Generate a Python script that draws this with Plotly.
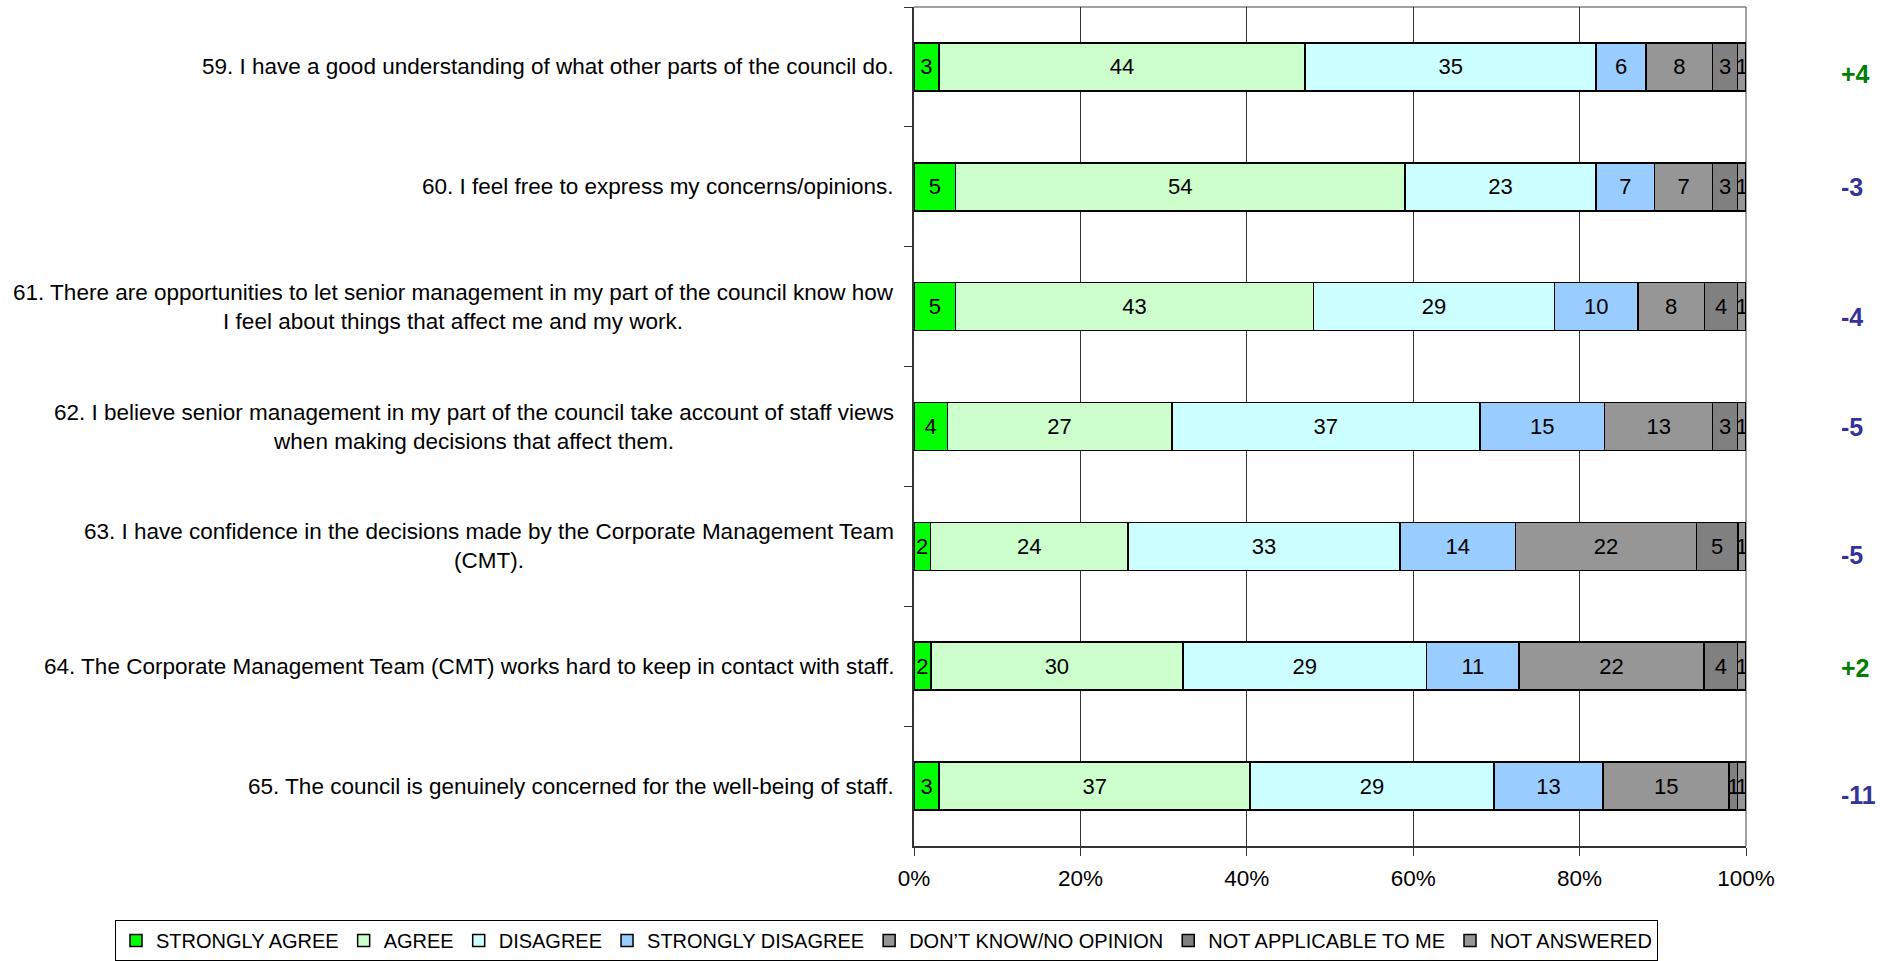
import plotly.graph_objects as go

# ---------------- data ----------------
questions = [
    "59. I have a good understanding of what other parts of the council do.",
    "60. I feel free to express my concerns/opinions.",
    "61. There are opportunities to let senior management in my part of the council know how<br>I feel about things that affect me and my work.",
    "62. I believe senior management in my part of the council take account of staff views<br>when making decisions that affect them.",
    "63. I have confidence in the decisions made by the Corporate Management Team<br>(CMT).",
    "64. The Corporate Management Team (CMT) works hard to keep in contact with staff.",
    "65. The council is genuinely concerned for the well-being of staff.",
]
row_ids = ["Q59", "Q60", "Q61", "Q62", "Q63", "Q64", "Q65"]

series_names = ["STRONGLY AGREE", "AGREE", "DISAGREE", "STRONGLY DISAGREE",
                "DON\u2019T KNOW/NO OPINION", "NOT APPLICABLE TO ME", "NOT ANSWERED"]

strongly_agree    = [3, 5, 5, 4, 2, 2, 3]
agree             = [44, 54, 43, 27, 24, 30, 37]
disagree          = [35, 23, 29, 37, 33, 29, 29]
strongly_disagree = [6, 7, 10, 15, 14, 11, 13]
dont_know         = [8, 7, 8, 13, 22, 22, 15]
not_applicable    = [3, 3, 4, 3, 5, 4, 1]
not_answered      = [1, 1, 1, 1, 1, 1, 1]

changes = ["+4", "-3", "-4", "-5", "-5", "+2", "-11"]

x_tickvals = [0, 20, 40, 60, 80, 100]
x_ticktext = ["0%", "20%", "40%", "60%", "80%", "100%"]

# ---------------- styles ----------------
series_values = [strongly_agree, agree, disagree, strongly_disagree,
                 dont_know, not_applicable, not_answered]
series_colors = ["#00FF00", "#CCFFCC", "#CCFFFF", "#99CCFF",
                 "#969696", "#808080", "#969696"]
change_dy = [7, 0, 10, 0, 9, 2, 9]  # small vertical offsets (px) of change labels

FONT = "Liberation Sans, Arial, sans-serif"
W, H = 1885, 961
ML, MR, MT, MB = 914, 139, 7, 115
plot_w = W - ML - MR
plot_h = H - MT - MB

fig = go.Figure()
for name, vals, col in zip(series_names, series_values, series_colors):
    fig.add_trace(go.Bar(
        y=row_ids, x=vals, name=name, orientation="h",
        marker=dict(color=col, line=dict(color="#000000", width=1.5)),
        text=[str(v) for v in vals], texttemplate="%{text}",
        textposition="inside", insidetextanchor="middle", textangle=0,
        textfont=dict(family=FONT, size=22, color="#000000"),
        hoverinfo="skip",
    ))

annotations = []
for rid, q in zip(row_ids, questions):
    annotations.append(dict(
        xref="paper", yref="y", x=0, y=rid, xshift=-18,
        xanchor="right", yanchor="middle", align="center",
        text=q, showarrow=False,
        font=dict(family=FONT, size=22.5, color="#000000"),
    ))
for rid, c, dy in zip(row_ids, changes, change_dy):
    col = "#008000" if c.startswith("+") else "#333399"
    annotations.append(dict(
        xref="paper", yref="y", x=1, y=rid, xshift=93, yshift=-dy,
        xanchor="left", yanchor="middle",
        text="<b>%s</b>" % c, showarrow=False,
        font=dict(family=FONT, size=25, color=col),
    ))

fig.update_layout(
    width=W, height=H,
    barmode="stack", barnorm="percent", bargap=0.6,
    plot_bgcolor="#FFFFFF", paper_bgcolor="#FFFFFF",
    margin=dict(l=ML, r=MR, t=MT, b=MB, autoexpand=False),
    font=dict(family=FONT, size=22, color="#000000"),
    uniformtext=dict(minsize=22, mode="show"),
    annotations=annotations,
    legend=dict(
        orientation="h", xref="paper", yref="paper",
        x=(115 - ML) / plot_w, xanchor="left",
        y=-(920 - (H - MB)) / plot_h, yanchor="top",
        bordercolor="#000000", borderwidth=1, bgcolor="#FFFFFF",
        font=dict(family=FONT, size=20, color="#000000"),
        traceorder="normal", itemwidth=30, tracegroupgap=0,
    ),
    shapes=[
        dict(type="line", xref="paper", yref="paper", x0=0, x1=1, y0=1, y1=1,
             line=dict(color="#808080", width=1.5), layer="between"),
        dict(type="line", xref="paper", yref="paper", x0=1, x1=1, y0=0, y1=1,
             line=dict(color="#808080", width=1.5), layer="between"),
    ],
)

fig.update_xaxes(
    range=[0, 100], tickvals=x_tickvals, ticktext=x_ticktext,
    showgrid=True, gridcolor="#333333", gridwidth=1,
    showline=True, linecolor="#333333", linewidth=2,
    ticks="outside", ticklen=8, tickcolor="#333333", tickwidth=1,
    tickfont=dict(family=FONT, size=22.5, color="#000000"),
    ticklabelstandoff=3, zeroline=False, fixedrange=True,
)
fig.update_yaxes(
    type="category", categoryorder="array", categoryarray=row_ids,
    autorange="reversed", showticklabels=False, showgrid=False,
    showline=True, linecolor="#333333", linewidth=2,
    ticks="outside", ticklen=8, tickcolor="#333333", tickwidth=1,
    tickson="boundaries", zeroline=False, fixedrange=True,
)

fig.write_html(
    "out.html",
    config={"displayModeBar": False},
    post_script="document.body.style.margin='0';document.body.style.overflow='hidden';",
)
